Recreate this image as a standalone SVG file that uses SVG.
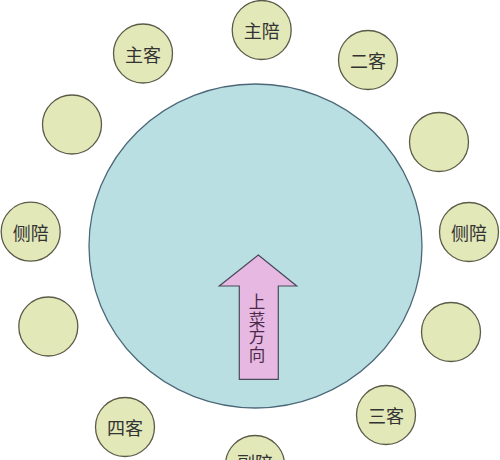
<svg xmlns="http://www.w3.org/2000/svg" width="500" height="460" viewBox="0 0 500 460">
<style>
.seat{fill:#e2e8b8;stroke:#5b5b48;stroke-width:1.3}
.lbl{font-family:"Noto Sans CJK SC","Noto Sans CJK JP",sans-serif;font-size:18px;fill:#333;text-anchor:middle;dominant-baseline:central}
.arw{font-family:"Noto Sans CJK SC","Noto Sans CJK JP",sans-serif;font-size:16.5px;fill:#4a2a48;text-anchor:middle;writing-mode:vertical-rl;text-orientation:upright;letter-spacing:1px}
</style>
<rect width="500" height="460" fill="#ffffff"/>
<g id="table">
<ellipse cx="255.5" cy="246" rx="166.5" ry="162" fill="#b9dfe2" stroke="#4c6878" stroke-width="1.3"/>
</g>
<g id="arrow">
<polygon points="258.3,255 296.7,286 278.3,286 278.3,379.3 239.3,379.3 239.3,286 219.3,286" fill="#e6b8e2" stroke="#4a4a5a" stroke-width="1.2"/>
<text class="arw" x="257" y="328.5">上菜方向</text>
</g>
<g id="zhupei"><circle class="seat" cx="261.7" cy="30" r="29.5"/><text class="lbl" x="261.7" y="30">主陪</text></g>
<g id="zhuke"><circle class="seat" cx="143" cy="53.5" r="29.5"/><text class="lbl" x="143" y="53.5">主客</text></g>
<g id="erke"><circle class="seat" cx="368" cy="60" r="29.5"/><text class="lbl" x="368" y="60">二客</text></g>
<g id="seat-left-upper"><circle class="seat" cx="72" cy="124.5" r="29.5"/></g>
<g id="seat-right-upper"><circle class="seat" cx="439" cy="142" r="29.5"/></g>
<g id="cepei-left"><circle class="seat" cx="30.7" cy="231.7" r="29.5"/><text class="lbl" x="30.7" y="231.7">侧陪</text></g>
<g id="cepei-right"><circle class="seat" cx="469" cy="232" r="29.5"/><text class="lbl" x="469" y="232">侧陪</text></g>
<g id="seat-left-lower"><circle class="seat" cx="48.3" cy="326.5" r="29.5"/></g>
<g id="seat-right-lower"><circle class="seat" cx="451" cy="332" r="29.5"/></g>
<g id="sike"><circle class="seat" cx="125" cy="427" r="29.5"/><text class="lbl" x="125" y="427">四客</text></g>
<g id="sanke"><circle class="seat" cx="386" cy="415" r="29.5"/><text class="lbl" x="386" y="415">三客</text></g>
<g id="fupei"><circle class="seat" cx="255" cy="465" r="29.5"/><text class="lbl" x="255" y="462">副陪</text></g>
<g id="connectors"></g>
</svg>
